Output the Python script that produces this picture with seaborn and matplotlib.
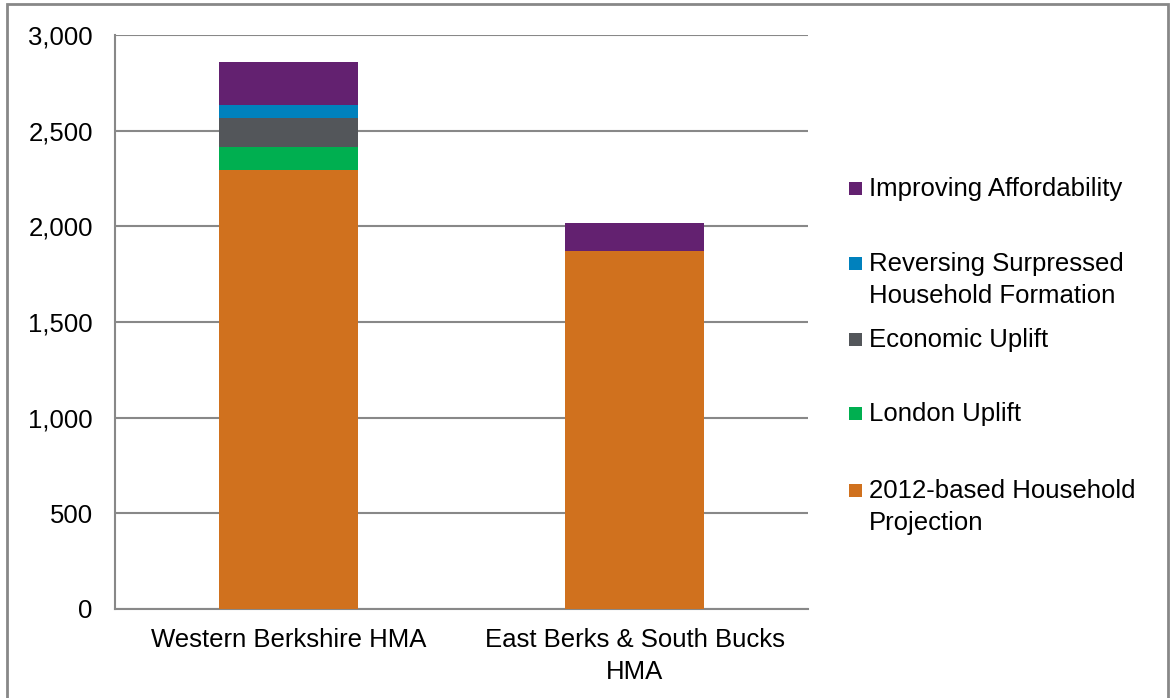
import pandas as pd
import numpy as np
import matplotlib.pyplot as plt
import seaborn as sns
from matplotlib.patches import Rectangle

# datos
regiones = ['Western Berkshire HMA', 'East Berks & South Bucks\nHMA']
componentes = ['2012-based Household\nProjection', 'London Uplift', 'Economic Uplift',
               'Reversing Surpressed\nHousehold Formation', 'Improving Affordability']
proyeccion_2012 = [2293, 1873]
london_uplift = [123, 0]
economic_uplift = [152, 0]
reversing_surpressed = [68, 0]
improving_affordability = [221, 143]
colores = ['#D0711E', '#00AF50', '#53565A', '#0081BD', '#632170']

sns.set_style("white")
plt.rcParams['font.family'] = ['Liberation Sans', 'DejaVu Sans']
plt.rcParams['text.color'] = 'black'
plt.rcParams['xtick.color'] = 'black'
plt.rcParams['ytick.color'] = 'black'

df = pd.DataFrame({
    'region': regiones,
    componentes[0]: proyeccion_2012,
    componentes[1]: london_uplift,
    componentes[2]: economic_uplift,
    componentes[3]: reversing_surpressed,
    componentes[4]: improving_affordability,
})
# acumulados para apilar
acum = df[componentes].cumsum(axis=1)

fig = plt.figure(figsize=(11.76, 6.98), dpi=100)
ax = fig.add_axes([115 / 1176, 1 - 609 / 698, (808 - 115) / 1176, (609 - 35) / 698])

for i in range(len(componentes) - 1, -1, -1):
    tmp = pd.DataFrame({'region': df['region'], 'valor': acum[componentes[i]]})
    sns.barplot(data=tmp, x='region', y='valor', color=colores[i], width=0.4,
                saturation=1, ax=ax, zorder=3, linewidth=0, edgecolor='none')

fs = 18.5
ax.set_ylim(0, 3000)
ax.set_xlim(-0.5, 1.5)
ax.set_yticks(range(0, 3001, 500))
ax.set_yticklabels([f'{v:,}' for v in range(0, 3001, 500)], fontsize=fs)
ax.set_xticks([0, 1])
ax.set_xticklabels(regiones, fontsize=fs, linespacing=1.4)
ax.set_xlabel('')
ax.set_ylabel('')
ax.yaxis.grid(True, color='#888888', linewidth=1.5, zorder=0)
ax.set_axisbelow(True)
for s in ['top', 'right']:
    ax.spines[s].set_visible(False)
for s in ['left', 'bottom']:
    ax.spines[s].set_color('#888888')
    ax.spines[s].set_linewidth(1.5)
ax.tick_params(axis='y', length=7, color='#888888', width=1.5, pad=9)
ax.tick_params(axis='x', length=0, pad=14)
# marcas del eje x en los limites de categoria
ax.set_xticks([-0.5, 0.5, 1.5], minor=True)
ax.tick_params(axis='x', which='minor', length=7, color='#888888', width=1.5)

# leyenda estilo Excel: marcador alineado con la primera linea
leyenda_y = [188, 263, 339, 413, 490]
for k, i in enumerate(range(len(componentes) - 1, -1, -1)):
    yy = 1 - leyenda_y[k] / 698
    fig.patches.append(Rectangle((849 / 1176, yy - 6.5 / 698), 13 / 1176, 13 / 698,
                                 transform=fig.transFigure, facecolor=colores[i],
                                 edgecolor='none'))
    fig.text(869 / 1176, yy + 11 / 698, componentes[i], fontsize=fs, va='top', ha='left',
             linespacing=1.4)

fig.add_artist(Rectangle((7 / 1176, -0.01), (1168 - 7) / 1176, 1 - 4 / 698 + 0.01,
                         transform=fig.transFigure, fill=False, edgecolor='#888888', linewidth=2))

fig.savefig('out.png', dpi=100)
